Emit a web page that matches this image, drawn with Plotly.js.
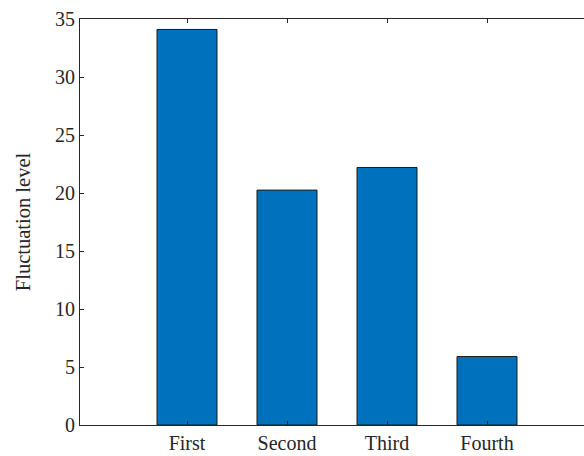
<!DOCTYPE html>
<html>
<head>
<meta charset="utf-8">
<script src="https://cdn.plot.ly/plotly-3.0.1.min.js"></script>
<style>
html,body{margin:0;padding:0;overflow:hidden;background:#fff;width:584px;height:456px;}
#chart{width:700px;height:456px;}
</style>
</head>
<body>
<div id="chart"></div>
<script>
const categories = ["First", "Second", "Third", "Fourth"];
const values = [34.1, 20.25, 22.2, 5.9];
const yTicks = [0, 5, 10, 15, 20, 25, 30, 35];

const font = {family: '"Liberation Serif", "DejaVu Serif", serif', size: 20, color: '#262626'};
const titleFont = {family: '"Liberation Serif", "DejaVu Serif", serif', size: 20.5, color: '#262626'};

Plotly.newPlot('chart', [{
  type: 'bar',
  x: categories,
  y: values,
  width: 0.6,
  marker: {color: '#0072BD', line: {color: '#1a1a1a', width: 1}},
  hoverinfo: 'none'
}], {
  width: 700,
  height: 456,
  margin: {l: 80, r: 95, t: 19, b: 31, pad: 0},
  paper_bgcolor: '#fff',
  plot_bgcolor: '#fff',
  showlegend: false,
  bargap: 0.4,
  font: font,
  xaxis: {
    type: 'category',
    range: [-1.07, 4.18],
    showline: true, linecolor: '#262626', linewidth: 1,
    mirror: 'ticks',
    ticks: 'inside', ticklen: 4, tickcolor: '#262626',
    showgrid: false, zeroline: false,
    tickfont: font,
    fixedrange: true
  },
  yaxis: {
    range: [0, 35],
    tickvals: yTicks,
    ticktext: yTicks.map(String),
    showline: true, linecolor: '#262626', linewidth: 1,
    mirror: false,
    ticks: 'inside', ticklen: 4, tickcolor: '#262626',
    showgrid: false, zeroline: false,
    tickfont: font,
    title: {text: 'Fluctuation level', font: titleFont, standoff: 18},
    fixedrange: true
  }
}, {staticPlot: true, displayModeBar: false});
</script>
</body>
</html>
